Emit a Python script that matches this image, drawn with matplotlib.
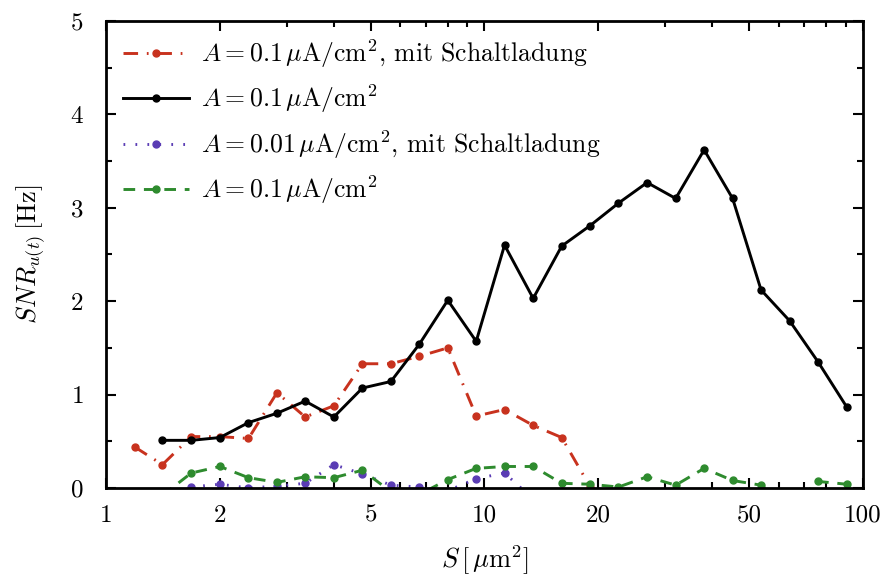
import numpy as np
import matplotlib
matplotlib.use("Agg")
import matplotlib.pyplot as plt
from matplotlib.ticker import FixedLocator, NullFormatter, FixedFormatter, MultipleLocator

plt.rcParams['font.family'] = 'serif'
plt.rcParams['font.serif'] = ['cmr10']
plt.rcParams['mathtext.fontset'] = 'cm'
plt.rcParams['axes.formatter.use_mathtext'] = True

# membrane areas S [um^2]
S_red = [1.19, 1.41, 1.68, 2.0, 2.38, 2.83, 3.36, 4.0, 4.76, 5.66, 6.73, 8.0,
         9.51, 11.3, 13.45, 16.0, 19.03]
snr_red = [0.44, 0.25, 0.55, 0.55, 0.53, 1.02, 0.76, 0.88, 1.33, 1.33, 1.41, 1.50,
           0.77, 0.84, 0.67, 0.54, 0.01]

S_black = [1.41, 1.68, 2.0, 2.38, 2.83, 3.36, 4.0, 4.76, 5.66, 6.73, 8.0, 9.51,
           11.3, 13.45, 16.0, 19.03, 22.6, 26.9, 32.0, 38.05, 45.25, 53.8, 64.0,
           76.1, 90.5]
snr_black = [0.51, 0.51, 0.54, 0.70, 0.80, 0.93, 0.76, 1.07, 1.14, 1.54, 2.01, 1.57,
             2.60, 2.03, 2.59, 2.81, 3.05, 3.27, 3.10, 3.62, 3.10, 2.12, 1.79,
             1.35, 0.87]

S_blue = [1.68, 2.0, 2.38, 2.83, 3.36, 4.0, 4.76, 5.66, 6.73, 8.0, 9.51, 11.3, 13.45]
snr_blue = [0.01, 0.04, 0.0, 0.02, 0.05, 0.25, 0.15, 0.03, 0.01, -0.03, 0.10, 0.16, -0.12]

S_green = [1.41, 1.68, 2.0, 2.38, 2.83, 3.36, 4.0, 4.76, 5.66, 6.73, 8.0, 9.51,
           11.3, 13.45, 16.0, 19.03, 22.6, 26.9, 32.0, 38.05, 45.25, 53.8, 64.0,
           76.1, 90.5]
snr_green = [-0.08, 0.16, 0.23, 0.11, 0.06, 0.12, 0.11, 0.19, -0.04, -0.07, 0.09, 0.21,
             0.23, 0.23, 0.05, 0.04, 0.01, 0.12, 0.03, 0.21, 0.08, 0.03, -0.22,
             0.07, 0.04]

x_ticks = [1, 2, 5, 10, 20, 50, 100]
x_ticklabels = ['1', '2', '5', '10', '20', '50', '100']

labels = [r'$A = 0.1\,\mu\mathrm{A/cm}^2$, mit Schaltladung',
          r'$A = 0.1\,\mu\mathrm{A/cm}^2$',
          r'$A = 0.01\,\mu\mathrm{A/cm}^2$, mit Schaltladung',
          r'$A = 0.1\,\mu\mathrm{A/cm}^2$']

fig = plt.figure(figsize=(8.86, 5.83), dpi=100)
ax = fig.add_axes([0.1196, 0.163, 0.8544, 0.801])

lw = 2.1
ms = 5
ax.plot(S_red, snr_red, color='#c8321e', lw=lw, ls=(0, (5, 3, 0.6, 3)),
        marker='o', ms=ms, label=labels[0])
ax.plot(S_black, snr_black, color='black', lw=lw, ls='-',
        marker='o', ms=ms, label=labels[1])
ax.plot(S_blue, snr_blue, color='#5a3cb4', lw=lw, ls=(0, (0.6, 3.5)),
        marker='o', ms=ms, label=labels[2])
ax.plot(S_green, snr_green, color='#2e8b2e', lw=lw, ls=(0, (4, 3)),
        marker='o', ms=ms, label=labels[3])

ax.set_xscale('log')
ax.set_xlim(1, 100)
ax.set_ylim(0, 5)

ax.xaxis.set_major_locator(FixedLocator(x_ticks))
ax.xaxis.set_major_formatter(FixedFormatter(x_ticklabels))
minor = [v * d for d in (1, 10) for v in range(2, 10)]
ax.xaxis.set_minor_locator(FixedLocator(minor))
ax.xaxis.set_minor_formatter(NullFormatter())
ax.yaxis.set_major_locator(MultipleLocator(1))
ax.yaxis.set_minor_locator(MultipleLocator(0.5))

ax.tick_params(which='both', direction='in', top=True, right=True, width=1.5,
               labelsize=18)
ax.tick_params(which='major', length=7)
ax.tick_params(which='minor', length=4)
ax.tick_params(axis='x', which='major', pad=12)
ax.tick_params(axis='y', which='major', pad=16)
for s in ax.spines.values():
    s.set_linewidth(2.0)

ax.set_xlabel(r'$S\,[\,\mu\mathrm{m}^2]$', fontsize=19, labelpad=12)
ax.set_ylabel(r'$SNR_{u(t)}\,[\mathrm{Hz}]$', fontsize=19, labelpad=16)

leg = ax.legend(loc='upper left', frameon=False, fontsize=18.5, numpoints=1,
                handlelength=2.6, handletextpad=0.45, labelspacing=0.5,
                borderaxespad=0.25, bbox_to_anchor=(0.0, 1.0))

fig.savefig('out.png', dpi=100)
